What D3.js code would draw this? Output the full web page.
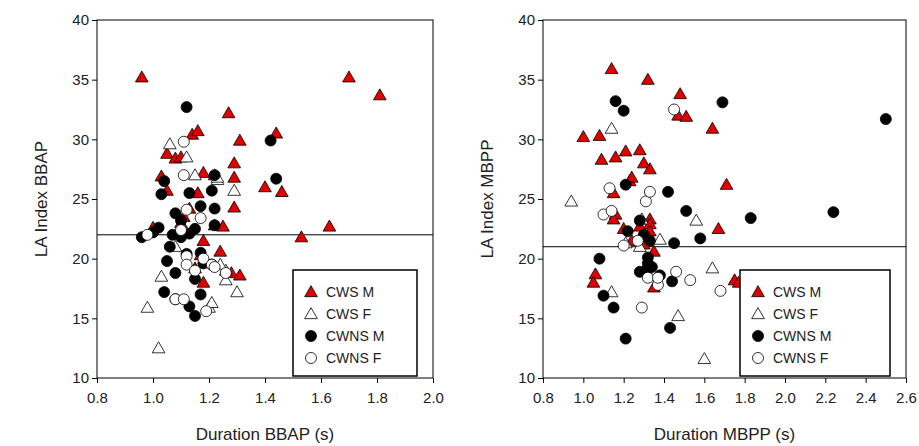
<!DOCTYPE html><html><head><meta charset="utf-8"><script src="https://d3js.org/d3.v7.min.js"></script>
<style>body{margin:0;background:#fff}svg{font-family:"Liberation Sans",Arial,sans-serif}</style></head><body><svg width="919" height="446"></svg>
<script>
const seriesNames=["CWS M","CWS F","CWNS M","CWNS F"];
const leftCWSM=[[0.96,35.2],[1.70,35.2],[1.81,33.7],[1.27,32.2],[1.14,30.4],[1.16,30.7],[1.44,30.5],[1.31,29.9],[1.05,28.8],[1.08,28.4],[1.10,28.5],[1.29,28.0],[1.29,26.8],[1.03,26.9],[1.18,27.2],[1.22,27.0],[1.40,26.0],[1.46,25.6],[1.05,25.7],[1.16,25.5],[1.29,24.3],[1.13,24.2],[1.22,22.8],[1.25,22.7],[1.63,22.7],[1.53,21.8],[1.10,23.0],[1.11,23.5],[1.00,22.6],[1.18,21.5],[1.17,20.3],[1.24,20.6],[1.15,19.2],[1.28,18.8],[1.31,18.6],[1.18,18.0]];
const leftCWSF=[[0.98,15.9],[1.02,12.5],[1.06,29.6],[1.12,28.5],[1.23,26.6],[1.29,25.7],[1.08,21.0],[1.03,18.5],[1.20,15.9],[1.21,16.3],[1.30,17.2],[1.26,18.2],[1.15,27.0],[1.23,26.8],[1.26,19.0],[1.24,19.5]];
const leftCWNSM=[[1.12,32.7],[1.42,29.9],[1.44,26.7],[1.22,27.0],[1.04,26.5],[1.03,25.4],[1.13,25.5],[1.21,25.7],[1.17,24.4],[1.22,24.2],[1.08,23.8],[1.10,23.2],[1.02,22.6],[1.00,22.2],[0.96,21.8],[1.07,22.0],[1.10,21.8],[1.13,22.1],[1.15,22.5],[1.22,22.8],[1.06,21.0],[1.05,19.8],[1.12,20.4],[1.08,18.8],[1.04,17.2],[1.17,20.5],[1.18,19.6],[1.15,18.3],[1.21,19.5],[1.13,16.0],[1.15,15.2],[1.17,17.0],[1.08,16.6]];
const leftCWNSF=[[1.11,29.8],[1.11,27.0],[0.98,22.0],[1.12,24.1],[1.17,23.4],[1.10,22.4],[1.12,20.2],[1.12,19.5],[1.15,19.0],[1.18,20.0],[1.21,19.5],[1.26,18.8],[1.08,16.6],[1.11,16.6],[1.19,15.6],[1.22,19.3]];
const rightCWSM=[[1.14,35.9],[1.32,35.0],[1.48,33.8],[1.47,32.0],[1.51,31.9],[1.64,30.9],[1.0,30.2],[1.08,30.3],[1.28,29.1],[1.21,29.0],[1.16,28.5],[1.09,28.3],[1.3,28.0],[1.33,27.5],[1.23,26.5],[1.24,26.8],[1.71,26.2],[1.15,25.5],[1.16,23.7],[1.15,23.3],[1.2,22.5],[1.28,22.7],[1.33,23.3],[1.33,22.9],[1.33,22.3],[1.67,22.5],[1.3,21.2],[1.24,21.5],[1.35,20.6],[1.06,18.7],[1.05,18.0],[1.35,17.6],[1.75,18.2],[1.77,18.0]];
const rightCWSF=[[0.94,24.8],[1.14,30.9],[1.56,23.2],[1.38,21.6],[1.64,19.2],[1.31,19.1],[1.14,17.2],[1.47,15.2],[1.6,11.6],[1.28,21.0],[1.29,23.3],[1.21,21.3]];
const rightCWNSM=[[1.16,33.2],[1.2,32.4],[1.69,33.1],[2.5,31.7],[2.24,23.9],[1.83,23.4],[1.58,21.7],[1.51,24.0],[1.42,25.6],[1.21,26.2],[1.28,23.2],[1.22,22.3],[1.3,22.0],[1.33,21.5],[1.45,21.3],[1.08,20.0],[1.32,20.1],[1.31,19.0],[1.34,19.3],[1.28,18.9],[1.44,18.1],[1.1,16.9],[1.15,15.9],[1.21,13.3],[1.43,14.2],[1.32,19.6],[1.38,18.6]];
const rightCWNSF=[[1.45,32.5],[1.2,21.1],[1.1,23.7],[1.14,24.0],[1.13,25.9],[1.31,24.8],[1.33,25.6],[1.27,21.5],[1.32,18.4],[1.29,15.9],[1.37,17.8],[1.53,18.2],[1.46,18.9],[1.68,17.3],[1.37,18.4]];
const leftXTicks=[0.8,1.0,1.2,1.4,1.6,1.8,2.0];
const rightXTicks=[0.8,1.0,1.2,1.4,1.6,1.8,2.0,2.2,2.4,2.6];
const yTicks=[10,15,20,25,30,35,40];

const svg=d3.select("svg");
const styles=[{t:"tri",f:"#e00000"},{t:"tri",f:"#fff"},{t:"cir",f:"#000"},{t:"cir",f:"#fff"}];
function mark(g,s,x,y){
  if(s.t==="tri") g.append("path").attr("d",d3.symbol(d3.symbolTriangle,70)()).attr("transform",`translate(${x},${y+1})`).attr("fill",s.f).attr("stroke","#000").attr("stroke-width",0.8);
  else g.append("circle").attr("cx",x).attr("cy",y).attr("r",5.5).attr("fill",s.f).attr("stroke","#000").attr("stroke-width",0.8);
}
function panel(x0,x1,dom,xt,series,refY,xTitle,yTitle,legX){
  const x=d3.scaleLinear().domain(dom).range([x0,x1]);
  const y=d3.scaleLinear().domain([10,40]).range([378,20]);
  const g=svg.append("g");
  g.append("rect").attr("x",x0).attr("y",20).attr("width",x1-x0).attr("height",358).attr("fill","none").attr("stroke","#000");
  const ax=g.append("g").attr("transform","translate(0,378)").call(d3.axisBottom(x).tickValues(xt).tickFormat(d3.format(".1f")).tickSize(5));
  const ay=g.append("g").attr("transform",`translate(${x0},0)`).call(d3.axisLeft(y).tickValues(yTicks).tickSize(5));
  [ax,ay].forEach(a=>{a.select(".domain").remove();a.selectAll("text").attr("font-size",15).attr("font-family","Liberation Sans, Arial").attr("fill","#222");});
  ax.selectAll("text").attr("dy","1.1em");
  g.append("line").attr("x1",x0).attr("x2",x1).attr("y1",y(refY)).attr("y2",y(refY)).attr("stroke","#000");
  series.forEach((d,i)=>d.forEach(p=>mark(g,styles[i],x(p[0]),y(p[1]))));
  g.append("text").attr("x",(x0+x1)/2).attr("y",440).attr("text-anchor","middle").attr("font-size",17).attr("fill","#222").text(xTitle);
  g.append("text").attr("transform",`translate(${x0-50},199) rotate(-90)`).attr("text-anchor","middle").attr("font-size",17).attr("fill","#222").text(yTitle);
  const L=g.append("g");
  L.append("rect").attr("x",legX).attr("y",270).attr("width",x1-legX-16).attr("height",106).attr("fill","#fff").attr("stroke","#000").attr("stroke-width",1.5);
  seriesNames.forEach((n,i)=>{const yy=292+i*22;mark(L,styles[i],legX+18,yy);
    L.append("text").attr("x",legX+33).attr("y",yy+5).attr("font-size",14).attr("fill","#222").text(n);});
}
panel(97,433,[0.8,2.0],leftXTicks,[leftCWSM,leftCWSF,leftCWNSM,leftCWNSF],22,"Duration BBAP (s)","LA Index BBAP",293);
panel(543,906,[0.8,2.6],rightXTicks,[rightCWSM,rightCWSF,rightCWNSM,rightCWNSF],21,"Duration MBPP (s)","LA Index MBPP",740);
</script></body></html>
